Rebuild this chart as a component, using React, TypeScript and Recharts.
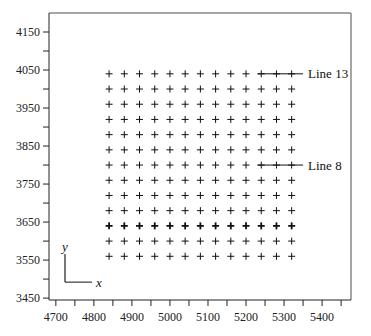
import { ScatterChart, Scatter, XAxis, YAxis, ReferenceLine, Label } from 'recharts';

const FONT = 'Liberation Serif';

// grid of shot points
const COLUMNS = [4840, 4880, 4920, 4960, 5000, 5040, 5080, 5120, 5160, 5200, 5240, 5280, 5320];
const ROWS = [3560, 3600, 3640, 3680, 3720, 3760, 3800, 3840, 3880, 3920, 3960, 4000, 4040];
const BOLD_ROW = 3640;

const X_TICKS = [4700, 4750, 4800, 4850, 4900, 4950, 5000, 5050, 5100, 5150, 5200, 5250, 5300, 5350, 5400, 5450];
const Y_TICKS = [3450, 3500, 3550, 3600, 3650, 3700, 3750, 3800, 3850, 3900, 3950, 4000, 4050, 4100, 4150];
const X_LABELED = [4700, 4800, 4900, 5000, 5100, 5200, 5300, 5400];
const Y_LABELED = [3450, 3550, 3650, 3750, 3850, 3950, 4050, 4150];
const X_DOMAIN = [4682, 5476];
const Y_DOMAIN = [3445, 4200];

// highlighted lines
const LINES = [
  { name: 'Line 13', y: 4040, x1: 5230, x2: 5350 },
  { name: 'Line 8', y: 3800, x1: 5230, x2: 5350 },
];

// orientation marker
const ORIGIN = { x: 4724, y: 3492 };
const ARROW_Y_END = 3566;
const ARROW_X_END = 4795;

const normalPts = ROWS.filter(r => r !== BOLD_ROW).flatMap(y => COLUMNS.map(x => ({ x, y })));
const boldPts = COLUMNS.map(x => ({ x, y: BOLD_ROW }));

function cross(width: number) {
  return (props: { cx?: number; cy?: number }) => {
    const { cx = 0, cy = 0 } = props;
    const h = 3.5;
    return (
      <g>
        <line x1={cx - h} y1={cy} x2={cx + h} y2={cy} stroke="#111" strokeWidth={width} />
        <line x1={cx} y1={cy - h} x2={cx} y2={cy + h} stroke="#111" strokeWidth={width} />
      </g>
    );
  };
}

const tick = { fontSize: 12, fill: '#222', fontFamily: FONT, style: { fontFamily: FONT } };
const labelStyle = { fontFamily: FONT };

export default function App() {
  return (
    <div style={{ position: 'fixed', left: 0, top: 0, background: '#fff', fontFamily: FONT }}>
      <ScatterChart width={371} height={336} margin={{ top: 13, right: 20, left: 0, bottom: 0 }} style={{ fontFamily: FONT }}>
        <XAxis
          type="number"
          dataKey="x"
          domain={X_DOMAIN}
          ticks={X_TICKS}
          interval={0}
          allowDataOverflow
          height={36}
          tick={tick}
          tickSize={6}
          tickMargin={6}
          stroke="#222"
          tickFormatter={(v) => (X_LABELED.includes(v) ? String(v) : '')}
        />
        <YAxis
          type="number"
          dataKey="y"
          domain={Y_DOMAIN}
          ticks={Y_TICKS}
          interval={0}
          allowDataOverflow
          width={49}
          tick={tick}
          tickSize={6}
          tickMargin={3}
          stroke="#222"
          tickFormatter={(v) => (Y_LABELED.includes(v) ? String(v) : '')}
        />
        <ReferenceLine y={Y_DOMAIN[1]} stroke="#888" strokeWidth={1.5} />
        <ReferenceLine x={X_DOMAIN[1]} stroke="#888" strokeWidth={1.5} />
        <Scatter data={normalPts} shape={cross(1)} isAnimationActive={false} />
        <Scatter data={boldPts} shape={cross(1.8)} isAnimationActive={false} />
        {LINES.map(l => (
          <ReferenceLine key={l.name} segment={[{ x: l.x1, y: l.y }, { x: l.x2, y: l.y }]} stroke="#111" strokeWidth={1}>
            <Label value={l.name} position="right" offset={5} fill="#111" fontSize={13} fontFamily={FONT} style={labelStyle} />
          </ReferenceLine>
        ))}
        <ReferenceLine segment={[{ x: ORIGIN.x, y: ORIGIN.y }, { x: ORIGIN.x, y: ARROW_Y_END }]} stroke="#777" strokeWidth={2}>
          <Label value="y" position="top" offset={3} fill="#111" fontSize={13} fontFamily={FONT} fontStyle="italic" style={labelStyle} />
        </ReferenceLine>
        <ReferenceLine segment={[{ x: ORIGIN.x, y: ORIGIN.y }, { x: ARROW_X_END, y: ORIGIN.y }]} stroke="#111" strokeWidth={1}>
          <Label value="x" position="right" offset={4} fill="#111" fontSize={13} fontFamily={FONT} fontStyle="italic" style={labelStyle} />
        </ReferenceLine>
      </ScatterChart>
    </div>
  );
}
